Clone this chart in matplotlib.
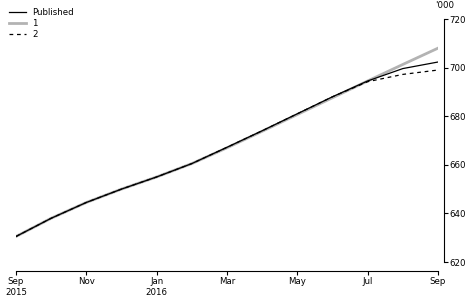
import matplotlib
matplotlib.use("Agg")
import matplotlib.pyplot as plt

months = ["Sep 2015", "Oct 2015", "Nov 2015", "Dec 2015", "Jan 2016", "Feb 2016",
          "Mar 2016", "Apr 2016", "May 2016", "Jun 2016", "Jul 2016", "Aug 2016", "Sep 2016"]
published = [630.5, 638.0, 644.5, 650.0, 655.0, 660.5, 667.2, 674.0, 681.0, 688.0, 694.5, 699.6, 702.3]
series1 = [630.5, 638.0, 644.5, 650.0, 655.0, 660.5, 667.0, 673.8, 680.7, 687.6, 694.5, 701.3, 708.0]
series2 = [630.5, 638.0, 644.5, 650.0, 655.0, 660.5, 667.2, 674.0, 681.0, 688.0, 694.2, 697.2, 699.0]
tick_labels = ["Sep\n2015", "Nov", "Jan\n2016", "Mar", "May", "Jul", "Sep"]
y_ticks = [620, 640, 660, 680, 700, 720]

W, H = 472, 302
fig = plt.figure(figsize=(W / 100, H / 100), dpi=100)
ax = fig.add_axes([16 / W, (H - 271) / H, (438 - 16) / W, (271 - 19) / H])

x = list(range(len(months)))
ax.plot(x, series1, color="#b3b3b3", lw=2.0, label="1", zorder=2)
ax.plot(x, published, color="black", lw=0.9, label="Published", zorder=3)
ax.plot(x, series2, color="black", lw=0.9, ls=(0, (3, 3)), label="2", zorder=3)

ax.set_xlim(0, 12)
ax.set_ylim(620 - 9 / 2.43, 720)

fs = 6.2
ax.set_xticks(list(range(0, 13, 2)))
ax.set_xticklabels(tick_labels)
ax.tick_params(axis="x", direction="out", length=3, width=0.8, pad=1.5, labelsize=fs)

ax.yaxis.tick_right()
ax.set_yticks(y_ticks)
ax.set_yticklabels([str(v) for v in y_ticks])
ax.tick_params(axis="y", which="both", direction="out", length=3, width=0.8, pad=1,
               labelsize=fs, right=True, labelright=True, left=False, labelleft=False)

for s in ["left", "top"]:
    ax.spines[s].set_visible(False)
ax.spines["right"].set_position(("outward", 4.3))
ax.spines["right"].set_bounds(620, 720)
ax.spines["bottom"].set_bounds(0, 12)
ax.spines["right"].set_linewidth(0.8)
ax.spines["bottom"].set_linewidth(0.8)

fig.text(445 / W, 1 - 6 / H, "'000", fontsize=fs, ha="center", va="center")

handles, labels = ax.get_legend_handles_labels()
order = [labels.index(l) for l in ["Published", "1", "2"]]
leg = fig.legend([handles[i] for i in order], [labels[i] for i in order],
                 loc="upper left", bbox_to_anchor=(9 / W, 1 - 8 / H),
                 frameon=False, fontsize=fs, handlelength=2.0, handletextpad=0.7,
                 labelspacing=0.25, borderpad=0, borderaxespad=0)

fig.savefig("out.png", dpi=100)
